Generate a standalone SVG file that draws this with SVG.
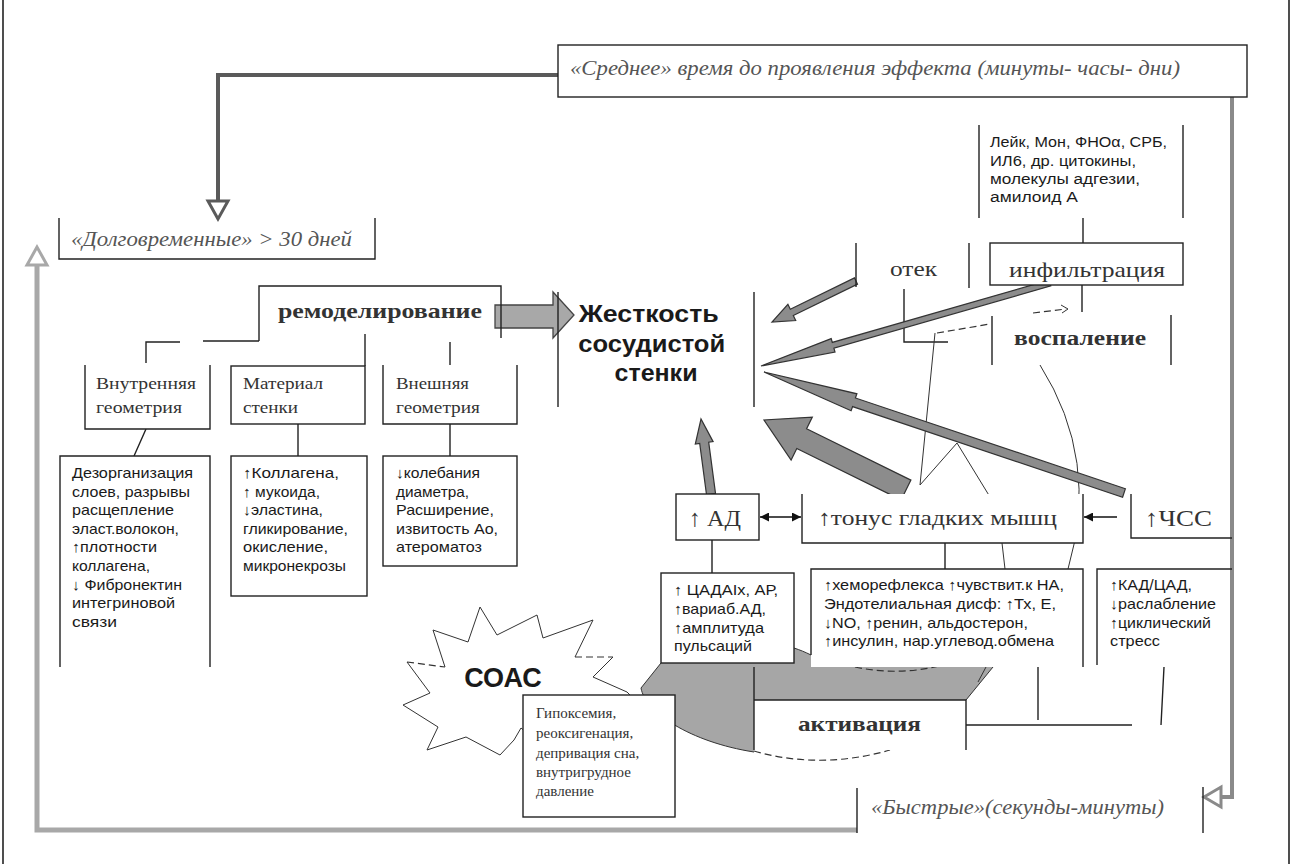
<svg xmlns="http://www.w3.org/2000/svg" width="1292" height="864" viewBox="0 0 1292 864">
<defs>
<style>
.bx{fill:#fff;stroke:#222;stroke-width:1.4}
.wf{fill:#fff;stroke:none}
.ln{fill:none;stroke:#222;stroke-width:1.4}
.thin{fill:none;stroke:#333;stroke-width:1}
.dash{fill:none;stroke:#333;stroke-width:1.2;stroke-dasharray:7 4}
.ga{fill:#8c8c8c;stroke:#333;stroke-width:1.2;stroke-linejoin:miter}
.gb{fill:#a8a8a8;stroke:#444;stroke-width:1.3}
.sans{font-family:"Liberation Sans","DejaVu Sans",Arial,sans-serif;fill:#1a1a1a}
.serif{font-family:"Liberation Serif","DejaVu Serif","Times New Roman",serif;fill:#333}
.lst{font-size:15px}
.lbl{font-size:17px}
.it{font-style:italic;fill:#555}
.b{font-weight:bold}
</style>
<marker id="ab" viewBox="0 0 10 10" refX="10" refY="5" markerUnits="userSpaceOnUse" markerWidth="9" markerHeight="9" orient="auto-start-reverse">
<path d="M0,0 L10,5 L0,10 z" fill="#111"/>
</marker>
</defs>
<rect x="0" y="0" width="1292" height="864" fill="#fff"/>
<g id="frame" fill="none" stroke="#222" stroke-width="1.6">
<line x1="3" y1="0" x2="3" y2="864"/>
<line x1="1289" y1="0" x2="1289" y2="864"/>
</g>

<g id="activation-zone">
<path d="M661,663 L641,688 C645,712 690,742 754,752 L754,700 L966,700 L993,667 L811,667 L811,655 C805,652 800,650 794,648 L794,663 Z" fill="#a6a6a6" stroke="none"/>
<path d="M661,663 L641,688 C645,712 690,742 754,752" class="thin"/>
<path d="M966,700 L993,667" class="thin"/>
<path d="M986,667 L978,682" class="thin"/>
<path d="M794,648 C800,650 805,652 811,655" class="thin"/>
<path d="M855,667 Q897,676 939,666" class="dash"/>
<path d="M754,751 Q820,770 890,750" class="dash"/>
</g>

<g id="connectors">
<path d="M558,75 H218 V201" fill="none" stroke="#5a5a5a" stroke-width="4"/>
<polygon points="218,219 208,201 228,201" fill="#fff" stroke="#5a5a5a" stroke-width="3"/>
<path d="M1232,97 V797 H1221" fill="none" stroke="#8a8a8a" stroke-width="4"/>
<polygon points="1204,797 1221,787 1221,807" fill="#fff" stroke="#8a8a8a" stroke-width="3"/>
<path d="M37,265 V830 H857" fill="none" stroke="#a8a8a8" stroke-width="5"/>
<polygon points="37,247 27,265 47,265" fill="#fff" stroke="#a8a8a8" stroke-width="3"/>

<path d="M146,363 V342 H180 M203,341 H259" class="ln"/>
<path d="M365,334 V366 M450,342 V370" class="ln"/>
<path d="M146,429 L134,456 M298,424 V456 M450,424 V456" class="ln"/>
<polygon points="495,305 553,305 553,292 574,315 553,338 553,328 495,328" class="gb"/>

<path d="M1083,218 V243 M1082,284 V312" class="ln"/>
<path d="M1033,313 L1066,309" class="dash" stroke-dasharray="5 3"/>
<path d="M1061,305 L1068,309 L1062,313" class="thin"/>
<path d="M904,289 V342 H948" class="ln"/>
<path d="M937,333 L990,324" class="dash"/>
<path d="M935,333 L920,485 L957,443 L990,497 M1002,543 L1005,569" class="thin"/>
<path d="M1040,365 Q1100,460 1068,569" class="thin"/>

<polygon points="854.5,277.9 790.3,309.3 787.9,304.3 772,322 795.7,320.5 793.3,315.5 857.5,284.1" class="ga"/>
<polygon points="1049.2,280.1 832.3,342.4 831.2,338.6 761,366 835,352 833.9,348.2 1050.8,285.9" class="ga"/>
<polygon points="1125.4,488.7 855.4,398 856.9,393.8 764,372 851.1,410.8 852.6,406.6 1122.6,497.3" class="ga"/>
<polygon points="910.9,480.1 806.6,428.7 812.3,417.1 764,420 791.1,460.1 796.8,448.5 901.1,499.9" class="ga"/>
<polygon points="715.5,493.4 708.7,442.2 713.1,441.6 701,419 695.3,444 699.7,443.4 706.5,494.6" class="ga"/>

<line x1="760" y1="517" x2="801" y2="517" stroke="#111" stroke-width="1.6" marker-start="url(#ab)" marker-end="url(#ab)"/>
<line x1="1117" y1="517" x2="1084" y2="517" stroke="#111" stroke-width="1.6" marker-end="url(#ab)"/>
<path d="M712,540 V573 M945,543 V569" class="ln"/>
<path d="M966,725 H1132 M1038,667 V720 M1164,667 L1161,725" class="ln"/>
</g>

<g id="n-medium">
<rect x="558" y="45" width="689" height="52" class="bx"/>
<text x="570" y="75" class="serif it" font-size="21" textLength="610" lengthAdjust="spacingAndGlyphs">«Среднее» время до проявления эффекта (минуты- часы- дни)</text>
</g>
<g id="n-long">
<path d="M59,218 V259 H375 V218" class="ln"/>
<text x="71" y="246" class="serif it" font-size="20" fill="#444" textLength="281" lengthAdjust="spacingAndGlyphs">«Долговременные» &gt; 30 дней</text>
</g>
<g id="n-remod">
<path d="M259,341 V286 H501 V338" class="ln"/>
<text x="278" y="318" class="serif b" font-size="22" textLength="204" lengthAdjust="spacingAndGlyphs">ремоделирование</text>
</g>
<g id="n-inner">
<path d="M85,365 V429 H210 V365" class="bx"/>
<text class="serif lbl"><tspan x="96" y="389" textLength="100" lengthAdjust="spacingAndGlyphs">Внутренняя</tspan><tspan x="96" y="413" textLength="86" lengthAdjust="spacingAndGlyphs">геометрия</tspan></text>
</g>
<g id="n-material">
<rect x="231" y="366" width="134" height="58" class="bx"/>
<text class="serif lbl"><tspan x="243" y="389" textLength="80" lengthAdjust="spacingAndGlyphs">Материал</tspan><tspan x="243" y="413" textLength="55" lengthAdjust="spacingAndGlyphs">стенки</tspan></text>
</g>
<g id="n-outer">
<path d="M383,365 V424 H517 V365" class="bx"/>
<text class="serif lbl"><tspan x="396" y="389" textLength="73" lengthAdjust="spacingAndGlyphs">Внешняя</tspan><tspan x="396" y="413" textLength="84" lengthAdjust="spacingAndGlyphs">геометрия</tspan></text>
</g>
<g id="n-dezorg">
<path d="M60,667 V456 H210 V667" class="bx"/>
<text class="sans lst">
<tspan x="72" y="478" textLength="121" lengthAdjust="spacingAndGlyphs">Дезорганизация</tspan>
<tspan x="72" y="497" textLength="118" lengthAdjust="spacingAndGlyphs">слоев, разрывы</tspan>
<tspan x="72" y="515" textLength="102" lengthAdjust="spacingAndGlyphs">расщепление</tspan>
<tspan x="72" y="534" textLength="107" lengthAdjust="spacingAndGlyphs">эласт.волокон,</tspan>
<tspan x="72" y="552" textLength="85" lengthAdjust="spacingAndGlyphs">↑плотности</tspan>
<tspan x="72" y="571" textLength="78" lengthAdjust="spacingAndGlyphs">коллагена,</tspan>
<tspan x="72" y="590" textLength="110" lengthAdjust="spacingAndGlyphs">↓ Фибронектин</tspan>
<tspan x="72" y="608" textLength="103" lengthAdjust="spacingAndGlyphs">интегриновой</tspan>
<tspan x="72" y="627" textLength="45" lengthAdjust="spacingAndGlyphs">связи</tspan>
</text>
</g>
<g id="n-kollagen">
<rect x="231" y="456" width="136" height="140" class="bx"/>
<text class="sans lst">
<tspan x="243" y="478" textLength="96" lengthAdjust="spacingAndGlyphs">↑Коллагена,</tspan>
<tspan x="243" y="497" textLength="77" lengthAdjust="spacingAndGlyphs">↑ мукоида,</tspan>
<tspan x="243" y="515" textLength="80" lengthAdjust="spacingAndGlyphs">↓эластина,</tspan>
<tspan x="243" y="534" textLength="105" lengthAdjust="spacingAndGlyphs">гликирование,</tspan>
<tspan x="243" y="552" textLength="85" lengthAdjust="spacingAndGlyphs">окисление,</tspan>
<tspan x="243" y="571" textLength="103" lengthAdjust="spacingAndGlyphs">микронекрозы</tspan>
</text>
</g>
<g id="n-koleb">
<rect x="383" y="456" width="134" height="110" class="bx"/>
<text class="sans lst">
<tspan x="396" y="478" textLength="84" lengthAdjust="spacingAndGlyphs">↓колебания</tspan>
<tspan x="396" y="497" textLength="73" lengthAdjust="spacingAndGlyphs">диаметра,</tspan>
<tspan x="396" y="515" textLength="98" lengthAdjust="spacingAndGlyphs">Расширение,</tspan>
<tspan x="396" y="534" textLength="102" lengthAdjust="spacingAndGlyphs">извитость Ао,</tspan>
<tspan x="396" y="552" textLength="86" lengthAdjust="spacingAndGlyphs">атероматоз</tspan>
</text>
</g>
<g id="n-stiff">
<path d="M558,292 V407 M754,292 V407" class="ln"/>
<text class="sans b" font-size="24" text-anchor="middle">
<tspan x="652" y="322" textLength="140" lengthAdjust="spacingAndGlyphs">Жесткость</tspan>
<tspan x="655" y="352" textLength="147" lengthAdjust="spacingAndGlyphs">сосудистой</tspan>
<tspan x="656" y="381" textLength="83" lengthAdjust="spacingAndGlyphs">стенки</tspan>
</text>
</g>
<g id="n-cytok">
<path d="M979,125 V218 M1183,125 V218" class="ln"/>
<text class="sans" font-size="14">
<tspan x="990" y="147" textLength="177" lengthAdjust="spacingAndGlyphs">Лейк, Мон, ФНОα, СРБ,</tspan>
<tspan x="990" y="166" textLength="146" lengthAdjust="spacingAndGlyphs">ИЛ6, др. цитокины,</tspan>
<tspan x="990" y="184" textLength="150" lengthAdjust="spacingAndGlyphs">молекулы адгезии,</tspan>
<tspan x="990" y="202" textLength="88" lengthAdjust="spacingAndGlyphs">амилоид  А</tspan>
</text>
</g>
<g id="n-edema">
<path d="M856,243 V287 M969,243 V288" class="ln"/>
<text x="890" y="276" class="serif" font-size="22" fill="#555" textLength="47" lengthAdjust="spacingAndGlyphs">отек</text>
</g>
<g id="n-infiltr">
<rect x="990" y="243" width="193" height="42" class="bx"/>
<text x="1009" y="277" class="serif" font-size="22" textLength="156" lengthAdjust="spacingAndGlyphs">инфильтрация</text>
</g>
<g id="n-inflam">
<path d="M992,316 V365 M1171,315 V365" class="ln"/>
<text x="1014" y="345" class="serif b" font-size="20" textLength="132" lengthAdjust="spacingAndGlyphs">воспаление</text>
</g>
<g id="n-ad">
<rect x="676" y="494" width="83" height="46" class="bx"/>
<text x="689" y="526" class="serif" font-size="24" textLength="52" lengthAdjust="spacingAndGlyphs">↑ АД</text>
</g>
<g id="n-tonus">
<rect x="802" y="494" width="281" height="49" class="wf"/>
<path d="M802,494 V543 H1083 V494" class="ln"/>
<text x="818" y="525" class="serif" font-size="22" textLength="239" lengthAdjust="spacingAndGlyphs">↑тонус гладких мышц</text>
</g>
<g id="n-chss">
<path d="M1131,494 V538 H1232" class="ln"/>
<text x="1145" y="526" class="serif" font-size="24" textLength="67" lengthAdjust="spacingAndGlyphs">↑ЧСС</text>
</g>
<g id="n-cada">
<rect x="661" y="573" width="133" height="90" class="bx"/>
<text class="sans lst">
<tspan x="674" y="595" textLength="104" lengthAdjust="spacingAndGlyphs">↑ ЦАДАIx, АР,</tspan>
<tspan x="674" y="614" textLength="92" lengthAdjust="spacingAndGlyphs">↑вариаб.АД,</tspan>
<tspan x="674" y="633" textLength="90" lengthAdjust="spacingAndGlyphs">↑амплитуда</tspan>
<tspan x="674" y="651" textLength="78" lengthAdjust="spacingAndGlyphs">пульсаций</tspan>
</text>
</g>
<g id="n-chemo">
<rect x="811" y="569" width="272" height="98" class="wf"/>
<path d="M811,655 V569 H1083 V667" class="ln"/>
<text class="sans lst">
<tspan x="824" y="590" textLength="240" lengthAdjust="spacingAndGlyphs">↑хеморефлекса ↑чувствит.к НА,</tspan>
<tspan x="824" y="609" textLength="232" lengthAdjust="spacingAndGlyphs">Эндотелиальная дисф: ↑Тх, Е,</tspan>
<tspan x="824" y="628" textLength="204" lengthAdjust="spacingAndGlyphs">↓NO, ↑ренин, альдостерон,</tspan>
<tspan x="824" y="646" textLength="230" lengthAdjust="spacingAndGlyphs">↑инсулин, нар.углевод.обмена</tspan>
</text>
</g>
<g id="n-kad">
<rect x="1097" y="569" width="133" height="96" class="wf"/>
<path d="M1097,665 V569 H1232" class="ln"/>
<text class="sans lst">
<tspan x="1110" y="590" textLength="82" lengthAdjust="spacingAndGlyphs">↑КАД/ЦАД,</tspan>
<tspan x="1110" y="609" textLength="106" lengthAdjust="spacingAndGlyphs">↓раслабление</tspan>
<tspan x="1110" y="628" textLength="101" lengthAdjust="spacingAndGlyphs">↑циклический</tspan>
<tspan x="1110" y="646" textLength="50" lengthAdjust="spacingAndGlyphs">стресс</tspan>
</text>
</g>
<g id="n-soac">
<polygon points="407,662 445,667 433,630 468,642 480,607 497,635 537,615 543,638 593,620 575,657 613,657 593,677 627,692 640,705 560,760 521,728 514,740 500,755 466,737 427,750 438,727 403,705 430,693" class="wf"/>
<path d="M445,667 L433,630 L468,642 L480,607 L497,635 L537,615 L543,638 L593,620 L575,657 M613,657 L593,677 L627,692 L640,705 L560,760 L521,728 L514,740 L500,755 L466,737 L427,750 L438,727 L403,705 L430,693 L407,662" class="thin" stroke="#222" stroke-width="1.2"/>
<path d="M407,662 L445,667 M575,657 L613,657" class="dash"/>
<text x="503" y="687" class="sans b" font-size="27" text-anchor="middle" fill="#111">СОАС</text>
</g>
<g id="n-soac-box">
<rect x="523" y="695" width="152" height="122" class="bx"/>
<text class="serif" font-size="15" fill="#222">
<tspan x="536" y="718">Гипоксемия,</tspan>
<tspan x="536" y="738">реоксигенация,</tspan>
<tspan x="536" y="758">депривация сна,</tspan>
<tspan x="536" y="777">внутригрудное</tspan>
<tspan x="536" y="796">давление</tspan>
</text>
</g>
<g id="n-activ">
<rect x="754" y="700" width="212" height="50" class="wf"/>
<path d="M754,667 V750 M754,700 H966 V750" class="ln"/>
<text x="798" y="731" class="serif b" font-size="22" textLength="123" lengthAdjust="spacingAndGlyphs">активация</text>
</g>
<g id="n-fast">
<path d="M857,788 V833 M1203,787 V833" class="ln"/>
<text x="871" y="814" class="serif it" font-size="20" textLength="293" lengthAdjust="spacingAndGlyphs">«Быстрые»(секунды-минуты)</text>
</g>
</svg>
